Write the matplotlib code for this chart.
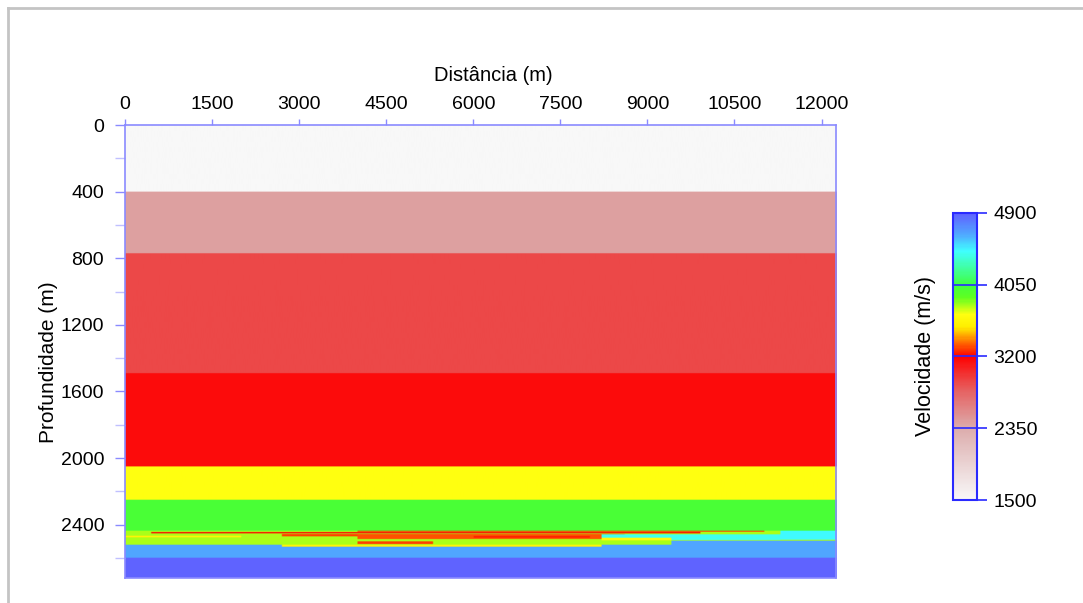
import numpy as np
import matplotlib.pyplot as plt
from matplotlib.colors import LinearSegmentedColormap, Normalize
from matplotlib.lines import Line2D

plt.rcParams['font.family'] = ['Liberation Sans', 'DejaVu Sans']

# model layers: top depth (m), bottom depth (m), velocity (m/s)
layer_top = [0, 400, 770, 1490, 2050, 2250, 2436, 2520, 2598]
layer_bot = [400, 770, 1490, 2050, 2250, 2436, 2520, 2598, 2720]
layer_vel = [1500, 2420, 2900, 3150, 3700, 4000, 3800, 4650, 4880]

# thin lenses in the layered zone: x start, x end, top, bottom, velocity
lens_x0 = [450, 4000, 2700, 4000, 4000, 2700, 8200, 8200, 9400, 11275, 0, 6000]
lens_x1 = [9900, 11000, 4100, 8600, 5300, 8200, 11275, 9400, 12250, 12250, 2000, 8000]
lens_top = [2444, 2437, 2456, 2456, 2500, 2520, 2458, 2478, 2496, 2436, 2466, 2468]
lens_bot = [2452, 2442, 2470, 2486, 2516, 2532, 2492, 2494, 2520, 2490, 2476, 2478]
lens_vel = [3200, 3280, 3300, 3320, 3300, 3600, 4420, 3650, 4650, 4450, 3600, 3250]

cbar_ticks = [1500, 2350, 3200, 4050, 4900]
cmap_vals = [1500, 2350, 2800, 3200, 3350, 3550, 3700, 3900, 4050, 4450, 4650, 4900]
cmap_cols = ['#f8f8f8', '#dcacac', '#e66060', '#ff0000', '#ff6000', '#ffee00',
             '#ffff10', '#60ff20', '#40ff40', '#40ffff', '#50a8ff', '#6060ff']

x_max = 12250
z_max = 2720

# build velocity grid
xs = np.arange(0, x_max, 25) + 12.5
zs = np.arange(0, z_max, 2) + 1
X, Z = np.meshgrid(xs, zs)
vel = np.zeros_like(X)
for t, b, v in zip(layer_top, layer_bot, layer_vel):
    vel[(Z >= t) & (Z < b)] = v
for x0, x1, t, b, v in zip(lens_x0, lens_x1, lens_top, lens_bot, lens_vel):
    vel[(X >= x0) & (X < x1) & (Z >= t) & (Z < b)] = v

vmin, vmax = cbar_ticks[0], cbar_ticks[-1]
pos = [(v - vmin) / (vmax - vmin) for v in cmap_vals]
cmap = LinearSegmentedColormap.from_list('vel', list(zip(pos, cmap_cols)))
norm = Normalize(vmin, vmax)

fig = plt.figure(figsize=(10.83, 6.03), dpi=100)
ax = fig.add_axes([0.1154, 0.0415, 0.6566, 0.7512])
im = ax.imshow(vel, cmap=cmap, norm=norm, extent=[0, x_max, z_max, 0],
               aspect='auto', interpolation='bilinear')

spine_col = '#8a8aff'
for s in ax.spines.values():
    s.set_color(spine_col)
    s.set_linewidth(1.2)

ax.xaxis.tick_top()
ax.xaxis.set_label_position('top')
ax.set_xticks(np.arange(0, 12001, 1500))
ax.set_yticks(np.arange(0, 2401, 400))
ax.set_yticks(np.arange(200, 2700, 400), minor=True)
ax.set_xlim(0, x_max)
ax.set_ylim(z_max, 0)
ax.tick_params(axis='both', which='both', color=spine_col, labelsize=14,
               direction='out', length=7, width=1)
ax.tick_params(axis='x', length=4.5, pad=4)
ax.tick_params(axis='y', pad=8)
ax.tick_params(which='minor', color='#c0c0ff')
ax.set_xlabel('Distância (m)', fontsize=14.5, labelpad=11)
ax.xaxis.label.set_x(0.518)
ax.set_ylabel('Profundidade (m)', fontsize=15, labelpad=2)
ax.yaxis.label.set_y(0.477)

cax = fig.add_axes([0.880, 0.1708, 0.022, 0.476])
cb = fig.colorbar(im, cax=cax, ticks=cbar_ticks)
cb.outline.set_edgecolor('#2a2aff')
cb.outline.set_linewidth(1.5)
cax.tick_params(color='#2a2aff', length=7, width=1.2, labelsize=14, pad=5)
for t in cbar_ticks[1:-1]:
    cax.axhline(t, color='#2a2aff', lw=1.2)
cax.yaxis.set_label_position('left')
cax.set_ylabel('Velocidade (m/s)', fontsize=15.5, labelpad=12)

# light gray frame at top and left
fig.add_artist(Line2D([8 / 1083, 1], [1 - 8 / 603, 1 - 8 / 603],
                      transform=fig.transFigure, color='#c4c4c4', lw=2))
fig.add_artist(Line2D([8 / 1083, 8 / 1083], [0, 1 - 8 / 603],
                      transform=fig.transFigure, color='#c4c4c4', lw=2))

fig.savefig('out.png', dpi=100)
